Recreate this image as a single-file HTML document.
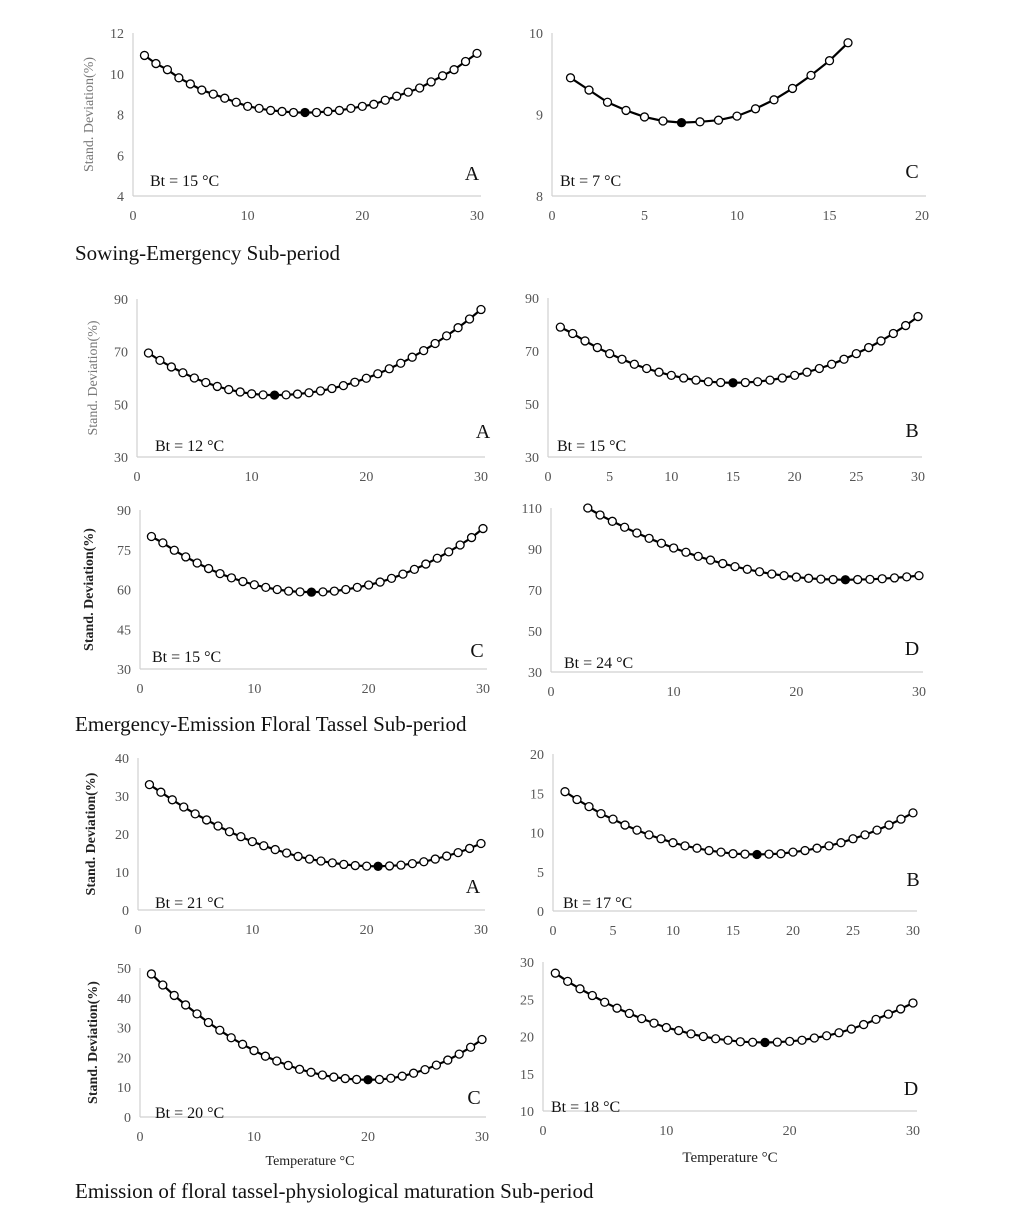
<!DOCTYPE html>
<html><head><meta charset="utf-8"><style>
body{margin:0;background:#fff;}
svg{display:block;font-family:"Liberation Serif",serif;}
</style></head><body>
<svg id="fig" width="1020" height="1212" viewBox="0 0 1020 1212" xmlns="http://www.w3.org/2000/svg">
<text x="75" y="260" font-size="21" fill="#111">Sowing-Emergency Sub-period</text>
<text x="75" y="731" font-size="21" fill="#111">Emergency-Emission Floral Tassel Sub-period</text>
<text x="75" y="1198" font-size="21" fill="#111">Emission of floral tassel-physiological maturation Sub-period</text>
<text x="310" y="1165" font-size="14" text-anchor="middle" fill="#222">Temperature °C</text>
<text x="730" y="1162" font-size="15" text-anchor="middle" fill="#222">Temperature °C</text>
</svg>
<script>
// Data arrays
const xs1 = [1,2,3,4,5,6,7,8,9,10,11,12,13,14,15,16,17,18,19,20,21,22,23,24,25,26,27,28,29,30];
const xs2 = [1,2,3,4,5,6,7,8,9,10,11,12,13,14,15,16];
const xs6 = [3,4,5,6,7,8,9,10,11,12,13,14,15,16,17,18,19,20,21,22,23,24,25,26,27,28,29,30];
const se_A = [10.9,10.5,10.2,9.8,9.5,9.2,9.0,8.8,8.6,8.4,8.3,8.2,8.15,8.1,8.1,8.1,8.15,8.2,8.3,8.4,8.5,8.7,8.9,9.1,9.3,9.6,9.9,10.2,10.6,11.0];
const se_C = [9.45,9.3,9.15,9.05,8.97,8.92,8.9,8.91,8.93,8.98,9.07,9.18,9.32,9.48,9.66,9.88];
const ee_A = [69.5,66.7,64.2,62.0,60.0,58.3,56.8,55.6,54.7,54.0,53.6,53.5,53.6,53.9,54.4,55.1,56.0,57.1,58.4,59.9,61.6,63.5,65.6,67.9,70.4,73.1,76.0,79.1,82.4,86.0];
const ee_B = [79,76.6,73.8,71.3,69,66.9,65,63.4,62,60.8,59.8,59,58.4,58.1,58,58.1,58.4,59,59.8,60.8,62,63.4,65,66.9,69,71.3,73.8,76.6,79.6,83];
const ee_C = [80,77.6,74.8,72.3,70,67.9,66,64.4,63,61.8,60.8,60,59.4,59.1,59,59.1,59.4,60,60.8,61.7,62.8,64.2,65.8,67.6,69.6,71.8,74.2,76.8,79.6,83];
const ee_D = [110,106.6,103.5,100.6,97.8,95.2,92.8,90.5,88.4,86.4,84.6,82.9,81.4,80.1,78.9,77.8,77,76.3,75.7,75.3,75.1,75,75.1,75.2,75.5,75.9,76.4,77];
const em_A = [33,31,29,27.1,25.3,23.7,22.1,20.6,19.3,18,16.9,15.9,15,14.1,13.4,12.9,12.4,12,11.7,11.55,11.5,11.6,11.8,12.2,12.7,13.4,14.2,15.1,16.2,17.5];
const em_B = [15.2,14.2,13.3,12.4,11.7,10.95,10.3,9.7,9.2,8.7,8.3,8,7.7,7.5,7.3,7.25,7.2,7.25,7.3,7.5,7.7,8,8.3,8.7,9.2,9.7,10.3,10.95,11.7,12.5];
const em_C = [48,44.3,40.8,37.6,34.6,31.7,29.1,26.6,24.4,22.3,20.4,18.8,17.3,16,15,14.1,13.4,12.9,12.6,12.5,12.6,13,13.7,14.7,15.9,17.4,19.1,21.1,23.4,26];
const em_D = [28.5,27.4,26.4,25.5,24.6,23.8,23.1,22.4,21.8,21.2,20.8,20.35,20,19.7,19.5,19.3,19.23,19.2,19.24,19.35,19.5,19.8,20.1,20.5,21,21.6,22.3,23,23.7,24.5];
const optA=15, optC7=7;
const yt1=[4,6,8,10,12], xt30=[0,10,20,30], yt2=[8,9,10], xt20=[0,5,10,15,20];
const yt3=[30,50,70,90], xt30b=[0,5,10,15,20,25,30], yt5=[30,45,60,75,90], yt6=[30,50,70,90,110];
const yt7=[0,10,20,30,40], yt8=[0,5,10,15,20], yt9=[0,10,20,30,40,50], yt10=[10,15,20,25,30];

const panels = [
 {n:'se-a',xs:xs1,ys:se_A,opt:15,x0:133,x1:477,xmax:30,y0:196,y1:33,ymin:4,ymax:12,xt:xt30,yt:yt1,bt:'Bt = 15 °C',btx:150,bty:186,L:'A',lx:472,ly:180,yt_title:{x:93,c:'#777',b:false}},
 {n:'se-c',xs:xs2,ys:se_C,opt:7,x0:552,x1:922,xmax:20,y0:196,y1:33,ymin:8,ymax:10,xt:xt20,yt:yt2,bt:'Bt = 7 °C',btx:560,bty:186,L:'C',lx:912,ly:178},
 {n:'ee-a',xs:xs1,ys:ee_A,opt:12,x0:137,x1:481,xmax:30,y0:457,y1:299,ymin:30,ymax:90,xt:xt30,yt:yt3,bt:'Bt = 12 °C',btx:155,bty:451,L:'A',lx:483,ly:438,yt_title:{x:97,c:'#777',b:false}},
 {n:'ee-b',xs:xs1,ys:ee_B,opt:15,x0:548,x1:918,xmax:30,y0:457,y1:298,ymin:30,ymax:90,xt:xt30b,yt:yt3,bt:'Bt = 15 °C',btx:557,bty:451,L:'B',lx:912,ly:437},
 {n:'ee-c',xs:xs1,ys:ee_C,opt:15,x0:140,x1:483,xmax:30,y0:669,y1:510,ymin:30,ymax:90,xt:xt30,yt:yt5,bt:'Bt = 15 °C',btx:152,bty:662,L:'C',lx:477,ly:657,yt_title:{x:93,c:'#222',b:true}},
 {n:'ee-d',xs:xs6,ys:ee_D,opt:24,x0:551,x1:919,xmax:30,y0:672,y1:508,ymin:30,ymax:110,xt:xt30,yt:yt6,bt:'Bt = 24 °C',btx:564,bty:668,L:'D',lx:912,ly:655},
 {n:'em-a',xs:xs1,ys:em_A,opt:21,x0:138,x1:481,xmax:30,y0:910,y1:758,ymin:0,ymax:40,xt:xt30,yt:yt7,bt:'Bt = 21 °C',btx:155,bty:908,L:'A',lx:473,ly:893,yt_title:{x:95,c:'#222',b:true}},
 {n:'em-b',xs:xs1,ys:em_B,opt:17,x0:553,x1:913,xmax:30,y0:911,y1:754,ymin:0,ymax:20,xt:xt30b,yt:yt8,bt:'Bt = 17 °C',btx:563,bty:908,L:'B',lx:913,ly:886},
 {n:'em-c',xs:xs1,ys:em_C,opt:20,x0:140,x1:482,xmax:30,y0:1117,y1:968,ymin:0,ymax:50,xt:xt30,yt:yt9,bt:'Bt = 20 °C',btx:155,bty:1118,L:'C',lx:474,ly:1104,yt_title:{x:97,c:'#222',b:true}},
 {n:'em-d',xs:xs1,ys:em_D,opt:18,x0:543,x1:913,xmax:30,y0:1111,y1:962,ymin:10,ymax:30,xt:xt30,yt:yt10,bt:'Bt = 18 °C',btx:551,bty:1112,L:'D',lx:911,ly:1095}
];
const NS='http://www.w3.org/2000/svg';
const svg=document.getElementById('fig');
function mk(tag,attrs,parent){const e=document.createElementNS(NS,tag);for(const k in attrs)e.setAttribute(k,attrs[k]);(parent||svg).appendChild(e);return e;}
panels.forEach(p=>{
  const g=mk('g',{});
  
  
  const X=v=>p.x0+(p.x1-p.x0)*v/p.xmax;
  const Y=v=>p.y0-(p.y0-p.y1)*(v-p.ymin)/(p.ymax-p.ymin);
  const ya=mk('line',{x1:p.x0,x2:p.x0,y1:p.y1,y2:p.y0,stroke:'#d0d0d0','stroke-width':1.2},g);
  
  
  const xa=mk('line',{x1:p.x0,x2:p.x1+4,y1:p.y0,y2:p.y0,stroke:'#d0d0d0','stroke-width':1.2},g);
  
  
  p.yt.forEach(v=>{const t=mk('text',{x:p.x0-9,y:Y(v)+5,'font-size':14,'text-anchor':'end',fill:'#555'},g);t.textContent=v;
    
    });
  p.xt.forEach(v=>{const t=mk('text',{x:X(v),y:p.y0+24,'font-size':14,'text-anchor':'middle',fill:'#555'},g);t.textContent=v;
    
    });
  const d=p.xs.map((x,i)=>(i?'L':'M')+X(x).toFixed(1)+' '+Y(p.ys[i]).toFixed(1)).join(' ');
  const ln=mk('path',{d:d,fill:'none',stroke:'#000','stroke-width':2.2},g);
  
  
  p.xs.forEach((x,i)=>{const c=mk('circle',{cx:X(x),cy:Y(p.ys[i]),r:4,fill:x===p.opt?'#000':'#fff',stroke:'#000','stroke-width':1.3},g);
    
    });
  const bt=mk('text',{x:p.btx,y:p.bty,'font-size':16,fill:'#111'},g);bt.textContent=p.bt;
  
  
  const L=mk('text',{x:p.lx,y:p.ly,'font-size':20,'text-anchor':'middle',fill:'#111'},g);L.textContent=p.L;
  
  
  if(p.yt_title){const yy=(p.y0+p.y1)/2;const t=mk('text',{x:p.yt_title.x,y:yy,'font-size':14,'text-anchor':'middle',fill:p.yt_title.c,'font-weight':p.yt_title.b?'bold':'normal',transform:'rotate(-90 '+p.yt_title.x+' '+yy+')'},g);t.textContent='Stand. Deviation(%)';
    
    }
});
</script>
</body></html>
